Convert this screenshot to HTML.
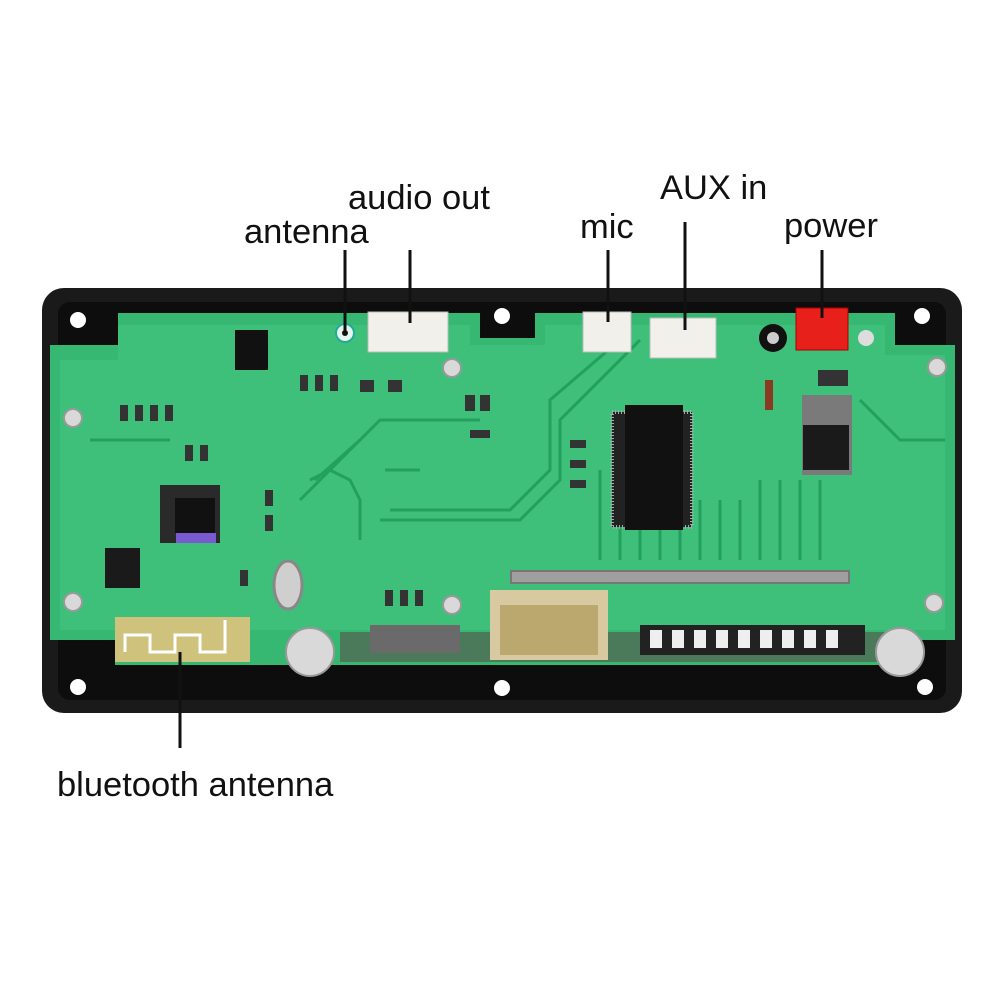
<!DOCTYPE html>
<html><head><meta charset="utf-8"><style>
html,body{margin:0;padding:0;background:#fff}
svg{display:block}
text{font-family:"Liberation Sans",sans-serif;font-size:34.5px;fill:#111}
</style></head><body>
<svg width="1002" height="1002" viewBox="0 0 1002 1002" xmlns="http://www.w3.org/2000/svg">
<rect width="1002" height="1002" fill="#fff"/>
<!-- labels -->
<text x="244" y="243">antenna</text>
<text x="348" y="209">audio out</text>
<text x="580" y="238">mic</text>
<text x="660" y="199">AUX in</text>
<text x="784" y="237">power</text>
<text x="57" y="796">bluetooth antenna</text>
<!-- frame -->
<rect x="42" y="288" width="920" height="425" rx="22" fill="#1a1a1a"/>
<rect x="58" y="302" width="888" height="398" rx="12" fill="#0d0d0d"/>
<!-- board -->
<path d="M50 345 L118 345 L118 313 L480 313 L480 338 L535 338 L535 313 L895 313 L895 345 L955 345 L955 640 L900 640 L900 665 L115 665 L115 640 L50 640 Z" fill="#37b872"/>
<path d="M60 360 L118 360 L118 325 L470 325 L470 345 L545 345 L545 325 L885 325 L885 355 L945 355 L945 630 L60 630 Z" fill="#45c882" opacity="0.5"/>
<!-- holes -->
<g fill="#fff">
<circle cx="78" cy="320" r="8"/><circle cx="502" cy="316" r="8"/><circle cx="922" cy="316" r="8"/>
<circle cx="78" cy="687" r="8"/><circle cx="502" cy="688" r="8"/><circle cx="925" cy="687" r="8"/>
</g>
<!-- traces -->
<g stroke="#23a05e" stroke-width="3" fill="none">
<path d="M300 500 L380 420 L480 420"/><path d="M315 480 L360 440"/>
<path d="M310 480 L330 470 L350 480 L360 500 L360 540"/>
<path d="M385 470 L420 470"/>
<path d="M380 520 L520 520 L560 480 L560 420 L640 340"/>
<path d="M390 510 L510 510 L550 470 L550 400 L620 340"/>
<path d="M600 470 L600 560 M620 480 L620 560 M640 500 L640 560 M660 500 L660 560 M680 500 L680 560 M700 500 L700 560 M720 500 L720 560 M740 500 L740 560 M760 480 L760 560 M780 480 L780 560 M800 480 L800 560 M820 480 L820 560"/>
<path d="M860 400 L900 440 L945 440"/><path d="M90 440 L170 440"/>
</g>
<!-- left chips -->
<rect x="235" y="330" width="33" height="40" fill="#111"/>
<rect x="160" y="485" width="60" height="58" fill="#2a2a2a"/>
<rect x="175" y="498" width="40" height="35" fill="#111"/>
<rect x="176" y="533" width="40" height="10" fill="#7a5ad0"/>
<rect x="105" y="548" width="35" height="40" fill="#1a1a1a"/>
<ellipse cx="288" cy="585" rx="14" ry="24" fill="#cfcfcf" stroke="#888" stroke-width="3"/>
<!-- small smd -->
<g fill="#333">
<rect x="120" y="405" width="8" height="16"/><rect x="135" y="405" width="8" height="16"/><rect x="150" y="405" width="8" height="16"/><rect x="165" y="405" width="8" height="16"/>
<rect x="185" y="445" width="8" height="16"/><rect x="200" y="445" width="8" height="16"/>
<rect x="300" y="375" width="8" height="16"/><rect x="315" y="375" width="8" height="16"/><rect x="330" y="375" width="8" height="16"/>
<rect x="360" y="380" width="14" height="12"/><rect x="388" y="380" width="14" height="12"/>
<rect x="265" y="490" width="8" height="16"/><rect x="265" y="515" width="8" height="16"/><rect x="240" y="570" width="8" height="16"/>
<rect x="465" y="395" width="10" height="16"/><rect x="480" y="395" width="10" height="16"/><rect x="470" y="430" width="20" height="8"/>
<rect x="570" y="440" width="16" height="8"/><rect x="570" y="460" width="16" height="8"/><rect x="570" y="480" width="16" height="8"/>
<rect x="385" y="590" width="8" height="16"/><rect x="400" y="590" width="8" height="16"/><rect x="415" y="590" width="8" height="16"/>
<rect x="765" y="380" width="8" height="30" fill="#8a3a20"/><rect x="818" y="370" width="30" height="16"/>
</g>
<!-- big IC -->
<rect x="612" y="412" width="80" height="115" fill="#222" stroke="#aaa" stroke-width="4" stroke-dasharray="1 2"/>
<rect x="625" y="405" width="58" height="125" fill="#111"/>
<!-- regulator -->
<rect x="802" y="395" width="50" height="80" fill="#7a7a7a"/>
<rect x="803" y="425" width="46" height="45" fill="#1a1a1a"/>
<!-- capacitor -->
<circle cx="773" cy="338" r="14" fill="#111"/><circle cx="773" cy="338" r="6" fill="#ccc"/>
<!-- connectors -->
<rect x="368" y="312" width="80" height="40" fill="#f2f0ea" stroke="#bbb"/>
<rect x="583" y="312" width="48" height="40" fill="#f2f0ea" stroke="#bbb"/>
<rect x="650" y="318" width="66" height="40" fill="#f2f0ea" stroke="#bbb"/>
<rect x="796" y="308" width="52" height="42" fill="#e8201c" stroke="#a00"/>
<circle cx="345" cy="333" r="9" fill="#e6f5ec" stroke="#2a9" stroke-width="2"/><circle cx="345" cy="333" r="3" fill="#111"/>
<circle cx="866" cy="338" r="8" fill="#ddd"/>
<!-- pin header -->
<rect x="510" y="570" width="340" height="14" fill="#777"/>
<g fill="#bbb"><rect x="512" y="572" width="336" height="10" opacity="0.6"/></g>
<!-- bottom components -->
<rect x="340" y="632" width="560" height="30" fill="#4a7a5a"/>
<rect x="490" y="590" width="118" height="70" fill="#d8c9a0"/>
<rect x="500" y="605" width="98" height="50" fill="#bba86e"/>
<rect x="640" y="625" width="225" height="30" fill="#222"/>
<g fill="#eee"><rect x="650" y="630" width="12" height="18"/><rect x="672" y="630" width="12" height="18"/><rect x="694" y="630" width="12" height="18"/><rect x="716" y="630" width="12" height="18"/><rect x="738" y="630" width="12" height="18"/><rect x="760" y="630" width="12" height="18"/><rect x="782" y="630" width="12" height="18"/><rect x="804" y="630" width="12" height="18"/><rect x="826" y="630" width="12" height="18"/></g>
<rect x="370" y="625" width="90" height="28" fill="#6a6a6a"/>
<!-- bt antenna -->
<rect x="115" y="617" width="135" height="45" fill="#cfc27c"/>
<path d="M125 652 L125 635 L150 635 L150 652 L175 652 L175 635 L200 635 L200 652 L225 652 L225 620" stroke="#fff" stroke-width="3" fill="none"/>
<!-- screws -->
<g fill="#d9d9d9" stroke="#999" stroke-width="2">
<circle cx="310" cy="652" r="24"/><circle cx="900" cy="652" r="24"/>
<circle cx="73" cy="418" r="9"/><circle cx="73" cy="602" r="9"/><circle cx="452" cy="368" r="9"/><circle cx="452" cy="605" r="9"/><circle cx="937" cy="367" r="9"/><circle cx="934" cy="603" r="9"/>
</g>
<!-- leader lines -->
<g stroke="#111" stroke-width="3">
<line x1="345" y1="250" x2="345" y2="333"/>
<line x1="410" y1="250" x2="410" y2="323"/>
<line x1="608" y1="250" x2="608" y2="322"/>
<line x1="685" y1="222" x2="685" y2="330"/>
<line x1="822" y1="250" x2="822" y2="318"/>
<line x1="180" y1="652" x2="180" y2="748"/>
</g>
</svg>
</body></html>
